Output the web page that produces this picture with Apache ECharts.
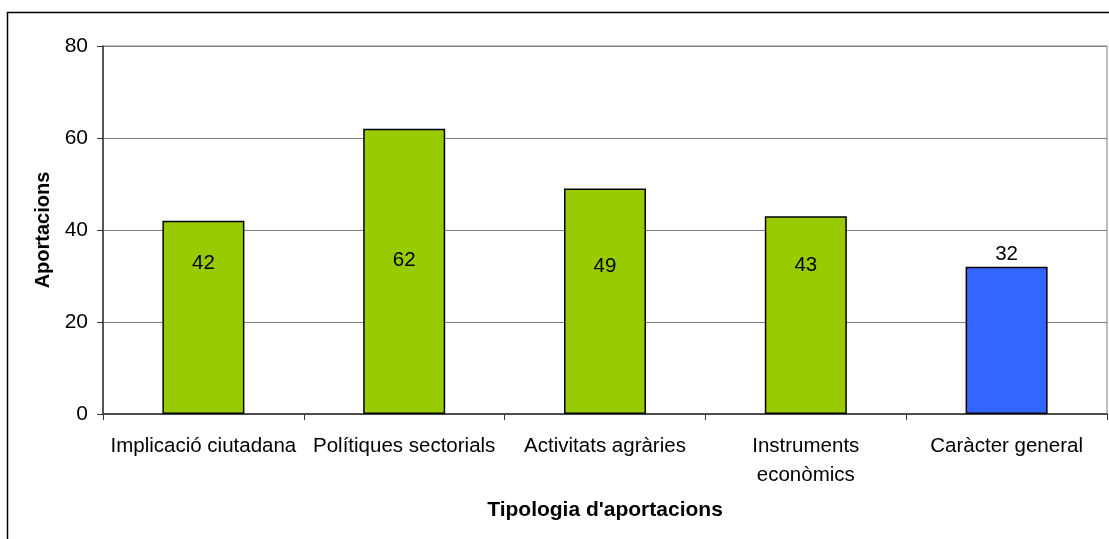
<!DOCTYPE html>
<html>
<head>
<meta charset="utf-8">
<script src="https://cdn.jsdelivr.net/npm/echarts@6/dist/echarts.min.js"></script>
<style>
  html, body { margin: 0; padding: 0; background: #fff; }
  #chart { width: 1109px; height: 539px; }
</style>
</head>
<body>
<div id="chart"></div>
<script>
// dades del gràfic
const categories = ['Implicació ciutadana', 'Polítiques sectorials', 'Activitats agràries', 'Instruments\neconòmics', 'Caràcter general'];
const values = [42, 62, 49, 43, 32];
const barColors = ['#99CC00', '#99CC00', '#99CC00', '#99CC00', '#3366FF'];
const yTicks = [0, 20, 40, 60, 80];
// petit desplaçament vertical de cada etiqueta (px), com a l'original
const labelShift = [0, -3, 3, 2, 0];

const myChart = echarts.init(document.getElementById('chart'));
const font = 'Liberation Sans, Arial, sans-serif';

const barData = values.map(function (v, i) {
    const last = i === values.length - 1;
    return {
        value: v,
        itemStyle: { color: barColors[i] },
        label: last
            ? { position: 'top', distance: 2 }
            : { position: 'insideBottom', distance: 140, offset: [0, labelShift[i]] }
    };
});

const option = {
    animation: false,
    backgroundColor: '#fff',
    graphic: [{
        type: 'rect',
        shape: { x: 7.5, y: 12.5, width: 1110, height: 540 },
        style: { fill: 'none', stroke: '#000', lineWidth: 1.5 },
        silent: true
    }],
    grid: {
        left: 103, right: 2, top: 46, bottom: 125,
        show: true, borderColor: '#808080', borderWidth: 1,
        containLabel: false
    },
    xAxis: {
        type: 'category',
        data: categories,
        name: "Tipologia d'aportacions",
        nameLocation: 'middle',
        nameGap: 86,
        nameTextStyle: { fontFamily: font, fontSize: 21, fontWeight: 'bold', color: '#000' },
        axisLine: { lineStyle: { color: '#333', width: 1.5 } },
        axisTick: { show: true, alignWithLabel: false, length: 6, lineStyle: { color: '#333' } },
        axisLabel: { fontFamily: font, fontSize: 20.5, color: '#000', margin: 18, lineHeight: 29, interval: 0 }
    },
    yAxis: {
        type: 'value',
        min: yTicks[0],
        max: yTicks[yTicks.length - 1],
        interval: 20,
        name: 'Aportacions',
        nameLocation: 'middle',
        nameGap: 50,
        nameTextStyle: { fontFamily: font, fontSize: 20, fontWeight: 'bold', color: '#000' },
        axisLine: { show: true, lineStyle: { color: '#333', width: 1.5 } },
        axisTick: { show: true, length: 6, lineStyle: { color: '#333' } },
        axisLabel: { fontFamily: font, fontSize: 21, color: '#000', margin: 15 },
        splitLine: { lineStyle: { color: '#808080', width: 1 } }
    },
    series: [{
        type: 'bar',
        data: barData,
        barWidth: 82,
        itemStyle: { borderColor: '#000', borderWidth: 1.5 },
        label: { show: true, fontFamily: font, fontSize: 20.5, color: '#000' }
    }]
};

myChart.setOption(option);
</script>
</body>
</html>
